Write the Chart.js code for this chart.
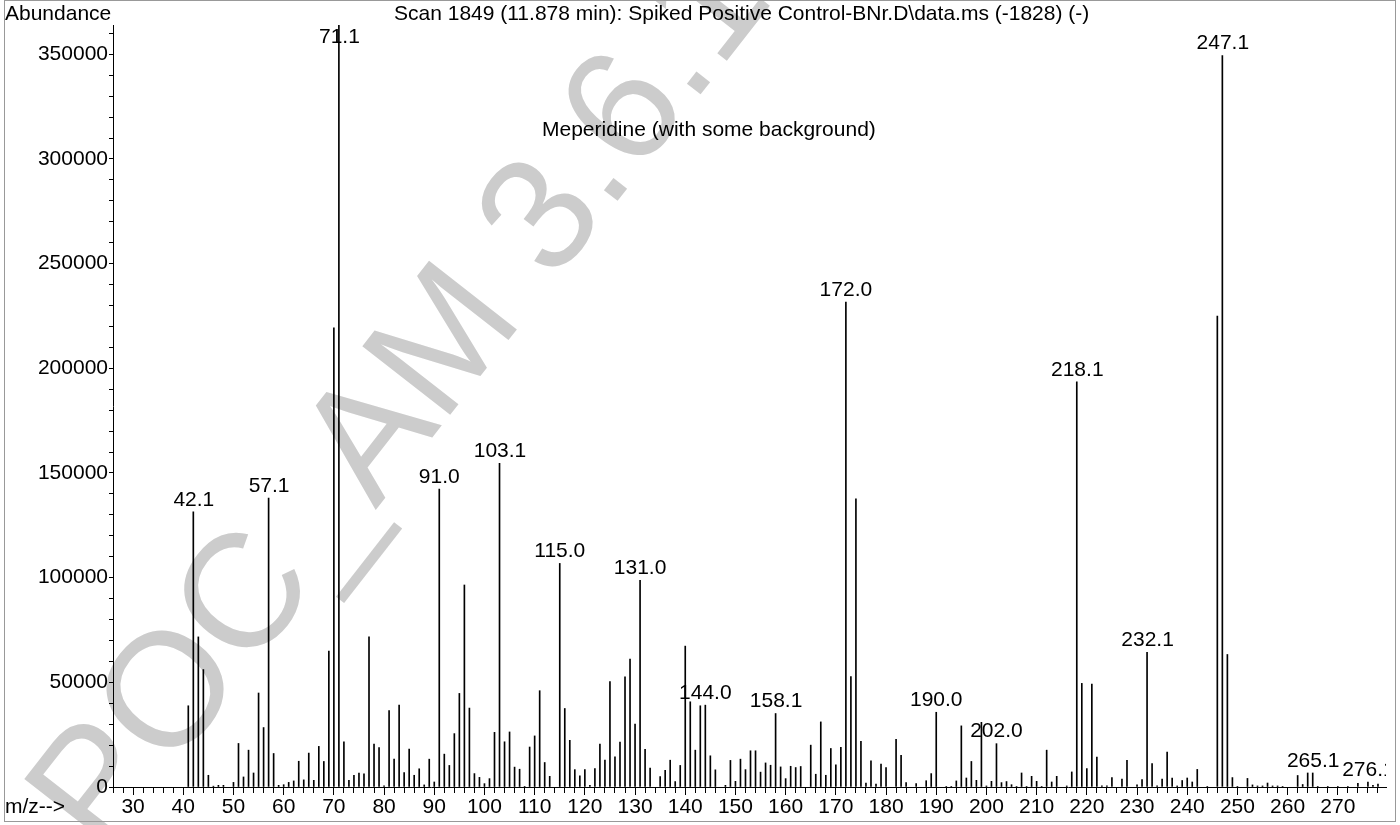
<!DOCTYPE html>
<html>
<head>
<meta charset="utf-8">
<title>Scan 1849 - Meperidine</title>
<script src="https://cdn.jsdelivr.net/npm/chart.js@4.4.1/dist/chart.umd.min.js"></script>
<style>
  html,body{margin:0;padding:0;background:#fff;}
  canvas{display:block;}
</style>
</head>
<body>
<canvas id="msChart" width="1400" height="825"></canvas>
<script>
/* ===============================
   SPECTRUM DATA
================================ */

const mz = [
  41,42,43,44,45,46,47,48,50,51,52,53,54,55,56,57,58,59,60,
  61,62,63,64,65,66,67,68,69,70,71,72,73,74,75,76,77,78,79,80,
  81,82,83,84,85,86,87,88,89,90,91,92,93,94,95,96,97,98,99,100,
  101,102,103,104,105,106,107,108,109,110,111,112,113,115,116,117,118,119,120,
  121,122,123,124,125,126,127,128,129,130,131,132,133,135,136,137,138,139,140,
  141,142,143,144,145,146,148,149,150,151,152,153,154,155,156,157,158,159,160,
  161,162,163,165,166,167,168,169,170,171,172,173,174,175,176,177,178,179,180,
  182,183,184,186,188,189,190,192,193,194,195,196,197,198,199,200,
  201,202,203,204,205,206,207,208,209,210,211,212,213,214,216,217,218,219,220,
  221,222,223,224,225,227,228,230,231,232,233,234,235,236,237,238,239,240,
  241,242,244,246,247,248,249,250,252,253,254,255,256,257,258,259,
  262,263,264,265,266,268,270,272,274,276,277,278
];

const abundance = [
  38800,131400,71700,56100,5600,400,800,800,2200,20800,4800,17600,6700,44900,28400,138000,16000,800,1100,
  2200,2900,12300,3400,16200,3200,19400,12200,64900,219300,364000,21600,3200,5600,6700,6300,71700,20500,18800,500,
  36500,13300,39100,6900,18100,5600,8700,1000,13300,2400,142300,15700,10300,25500,44700,96500,37700,6400,4600,1600,
  4000,26100,154600,21600,26300,9500,8500,300,19100,24400,46000,11700,5100,106800,37500,22300,8300,5300,8300,
  800,8800,20500,12800,50300,14400,21500,52600,61100,30000,98700,18000,9000,5000,8000,12800,2600,10300,67300,
  40700,17600,38800,39100,14900,8200,800,12700,2700,13300,8300,17300,17300,7100,11500,10400,35100,9600,4000,
  9900,9300,9800,20000,6100,31100,5600,18400,10600,18900,231700,52700,137700,21800,1900,12500,1400,10900,9300,
  22800,15100,2100,1600,3000,6400,35700,300,300,2900,29200,4300,12200,3200,30900,500,
  2700,20700,2100,2600,1100,300,6700,300,5100,2700,300,17600,2400,5100,500,7200,193600,49500,8800,
  49200,14300,500,500,4500,3800,12700,1000,3600,64300,11200,500,3800,16700,4300,500,3100,4300,
  2400,8400,300,224900,349400,63300,4500,300,4100,1000,500,500,1900,500,500,300,
  5500,1200,6700,6700,300,300,300,300,1700,2400,800,1400
];

const peakLabels = [
  "42.1","57.1","71.1","91.0","103.1","115.0","131.0","144.0","158.1",
  "172.0","190.0","202.0","218.1","232.1","247.1","265.1","276.1"
];

const xTickLabels = [30,40,50,60,70,80,90,100,110,120,130,140,150,160,170,180,190,200,210,220,230,240,250,260,270];
const yTickLabels = [0,50000,100000,150000,200000,250000,300000,350000];

const titleText = "Scan 1849 (11.878 min): Spiked Positive Control-BNr.D\\data.ms (-1828) (-)";
const noteText = "Meperidine (with some background)";
const watermarkText = "POC_AM 3.6.1";

// minor tick positions (every 2 on m/z, every 10000 on abundance)
const xTickValues = [];
for (let v = 26; v <= 278; v += 2) xTickValues.push(v);
const yTickValues = [];
for (let v = 0; v <= 360000; v += 10000) yTickValues.push(v);

const FONT = '"Liberation Sans", Arial, Helvetica, sans-serif';
Chart.defaults.font.family = FONT;
Chart.defaults.font.size = 21;
Chart.defaults.color = "#000";


/* PAGE DECORATION (background, watermark, frame, texts) */
const decoration = {
  id: "decoration",
  beforeDraw(chart){
    const ctx = chart.ctx;
    ctx.save();
    ctx.fillStyle = "#fff";
    ctx.fillRect(0, 0, chart.width, chart.height);

    ctx.translate(104, 858);
    ctx.rotate(-52 * Math.PI / 180);
    ctx.fillStyle = "#cccccc";
    ctx.font = "162px " + FONT;
    ctx.textBaseline = "alphabetic";
    ctx.fillText(watermarkText, 0, 0);
    ctx.restore();
  },
  afterDraw(chart){
    const ctx = chart.ctx;
    ctx.save();
    ctx.fillStyle = "#000";
    ctx.font = "21px " + FONT;
    ctx.textBaseline = "middle";
    ctx.textAlign = "left";
    ctx.fillText("Abundance", 5, 14);
    ctx.fillText(titleText, 394, 14);
    ctx.fillText(noteText, 542, 130);
    ctx.fillText("m/z-->", 5, 807);

    ctx.strokeStyle = "#999";
    ctx.lineWidth = 1;
    ctx.strokeRect(4.5, 0.5, 1391, 821);
    ctx.restore();
  }
};


/* PEAK LABELS */
const peakText = {
  id: "peakText",
  afterDatasetsDraw(chart){
    const ctx = chart.ctx;
    const area = chart.chartArea;
    const xs = chart.scales.x;
    const ys = chart.scales.y;
    ctx.save();
    ctx.beginPath();
    ctx.rect(area.left, 0, area.right - area.left, chart.height);
    ctx.clip();
    ctx.fillStyle = "#000";
    ctx.font = "21px " + FONT;
    ctx.textAlign = "center";
    ctx.textBaseline = "middle";
    peakLabels.forEach(lbl => {
      const m = parseFloat(lbl);
      const i = mz.indexOf(Math.round(m));
      const top = ys.getPixelForValue(abundance[i]);
      const y = Math.max(top - 12, area.top + 12);
      ctx.fillText(lbl, xs.getPixelForValue(m), y);
    });
    ctx.restore();
  }
};


/* CHART */
function renderChart(){

  const ctx = document.getElementById("msChart");

  new Chart(ctx,{
    type:"bar",
    data:{
      datasets:[{
        data: mz.map((m,i)=>({x:m, y:abundance[i]})),
        backgroundColor:"#000",
        borderWidth:0,
        barThickness:1
      }]
    },
    options:{
      responsive:false,
      animation:false,
      devicePixelRatio:1,
      layout:{ padding:{ top:25, right:14, bottom:0, left:0 } },
      plugins:{
        legend:{ display:false },
        tooltip:{ enabled:false }
      },
      scales:{
        x:{
          type:"linear",
          min:26,
          max:279.6,
          offset:false,
          afterBuildTicks(scale){ scale.ticks = xTickValues.map(v => ({value:v})); },
          afterFit(scale){ scale.height = 38; },
          border:{ display:true, color:"#000", width:1 },
          grid:{
            offset:false,
            drawOnChartArea:false,
            tickLength:8,
            tickColor:"#000",
            tickBorderDash: c => (c.tick && xTickLabels.includes(c.tick.value)) ? [] : [5, 40]
          },
          ticks:{
            autoSkip:false,
            maxRotation:0,
            padding:0,
            callback: v => xTickLabels.includes(v) ? String(v) : ""
          }
        },
        y:{
          type:"linear",
          min:0,
          max:364000,
          afterBuildTicks(scale){ scale.ticks = yTickValues.map(v => ({value:v})); },
          afterFit(scale){ scale.width = 113; },
          border:{ display:true, color:"#000", width:1 },
          grid:{
            drawOnChartArea:false,
            tickLength:4,
            tickColor:"#000"
          },
          ticks:{
            autoSkip:false,
            padding:1,
            callback: v => yTickLabels.includes(v) ? String(v) : ""
          }
        }
      }
    },
    plugins:[decoration, peakText]
  });
}

renderChart();
</script>
</body>
</html>
